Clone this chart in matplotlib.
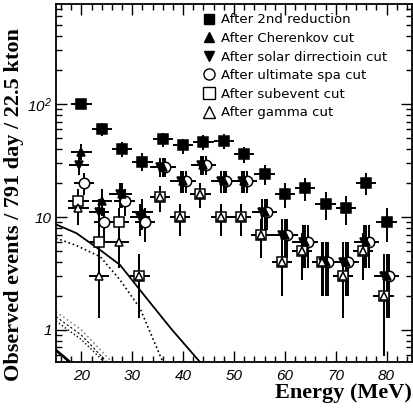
import matplotlib.pyplot as plt
import numpy as np
from matplotlib.lines import Line2D
from matplotlib.ticker import FixedLocator, FixedFormatter, MultipleLocator, LogLocator, NullFormatter

plt.rcParams['mathtext.fontset'] = 'custom'
plt.rcParams['mathtext.rm'] = 'Liberation Sans:italic'
plt.rcParams['mathtext.it'] = 'Liberation Sans:italic'

# bin centres (MeV), half width 2 MeV
energy = np.array([20, 24, 28, 32, 36, 40, 44, 48, 52, 56, 60, 64, 68, 72, 76, 80])

# events after each reduction step
n_2nd = [100, 60, 40, 31, 49, 43, 46, 47, 36, 24, 16, 18, 13, 12, 20, 9]
n_cherenkov = [38, 14, 16, 11, 28, 21, 29, 21, 21, 11, 7, 6, 4, 4, 6, 3]
n_solar = [29, 11, 16, 10, 28, 21, 29, 21, 21, 11, 7, 6, 4, 4, 6, 3]
n_spa = [20, 9, 14, 9, 28, 21, 29, 21, 21, 11, 7, 6, 4, 4, 6, 3]
n_subevent = [14, 6, 9, 3, 15, 10, 16, 10, 10, 7, 4, 5, 4, 3, 5, 2]
n_gamma = [12, 3, 6, 3, 15, 10, 16, 10, 10, 7, 4, 5, 4, 3, 5, 2]

# expected SRN spectra (model curves)
curve_a_e = [15, 19, 23.7, 27.6, 31.5, 37.6, 43.3]
curve_a_y = [8.6, 7.2, 5.1, 3.76, 2.26, 1.03, 0.52]
curve_b_e = [15, 19, 23.7, 27.6, 31.5, 36]
curve_b_y = [6.5, 5.6, 4.45, 2.77, 1.56, 0.52]
curve_c_e = [15, 20, 26]
curve_c_y = [1.45, 1.0, 0.52]
curve_d_e = [15, 20, 25]
curve_d_y = [1.31, 0.9, 0.52]
curve_e_e = [15, 20, 24.5]
curve_e_y = [1.2, 0.82, 0.52]
curve_f_e = [15, 16.5, 17.7]
curve_f_y = [0.66, 0.58, 0.52]

fig = plt.figure(figsize=(4.14, 4.09), dpi=100)
ax = fig.add_axes([56/414, 47/409, 356/414, 358/409])

ax.plot(curve_a_e, curve_a_y, '-', color='black', lw=1.3)
ax.plot(curve_b_e, curve_b_y, ':', color='black', lw=1.2)
ax.plot(curve_c_e, curve_c_y, ':', color='0.55', lw=1.2)
ax.plot(curve_d_e, curve_d_y, '--', color='black', lw=0.8, dashes=(2, 2))
ax.plot(curve_e_e, curve_e_y, ':', color='black', lw=1.0)
ax.plot(curve_f_e, curve_f_y, '-', color='black', lw=2.0)

series = [
    (n_2nd, 0.0, 's', 'black', 7, 'After 2nd reduction'),
    (n_spa, 0.5, 'o', 'white', 7.5, 'After ultimate spa cut'),
    (n_subevent, -0.6, 's', 'white', 7.5, 'After subevent cut'),
    (n_cherenkov, 0.0, '^', 'black', 5.5, 'After Cherenkov cut'),
    (n_solar, -0.5, 'v', 'black', 5.5, 'After solar dirrectioin cut'),
    (n_gamma, -0.6, '^', 'white', 5.5, 'After gamma cut'),
]
for vals, off, mk, fc, ms, lab in series:
    vals = np.array(vals, dtype=float)
    ax.errorbar(energy + off, vals, xerr=2, yerr=np.sqrt(vals), fmt=mk, ms=ms,
                mfc=fc, mec='black', mew=1.1, ecolor='black', elinewidth=1.4, capsize=0)

ax.set_yscale('log')
ax.set_xlim(15, 85)
ax.set_ylim(0.52, 770)

ax.xaxis.set_major_locator(FixedLocator([20, 30, 40, 50, 60, 70, 80]))
ax.xaxis.set_minor_locator(MultipleLocator(2))
ax.yaxis.set_major_locator(FixedLocator([1, 10, 100]))
ax.yaxis.set_major_formatter(FixedFormatter(['1', '10', '$10^2$']))
ax.yaxis.set_minor_locator(LogLocator(base=10, subs=np.arange(2, 10)))
ax.yaxis.set_minor_formatter(NullFormatter())
ax.tick_params(which='both', direction='in', top=True, right=True, width=1.0)
ax.tick_params(which='major', length=8)
ax.tick_params(which='minor', length=4)
ax.tick_params(axis='x', pad=5)
ax.tick_params(axis='y', pad=3)
for t in ax.get_xticklabels() + ax.get_yticklabels():
    t.set_fontfamily('Liberation Sans')
    t.set_fontstyle('italic')
    t.set_fontsize(11)

for s in ax.spines.values():
    s.set_linewidth(1.3)

fig.text(14/414, 1 - 205/409, 'Observed events / 791 day / 22.5 kton', rotation=90,
         ha='center', va='center', family='Liberation Serif', weight='bold', fontsize=16)
fig.text(412/414, 1 - 398/409, 'Energy (MeV)', ha='right', va='baseline',
         family='Liberation Serif', weight='bold', fontsize=16)

handles = [
    Line2D([], [], ls='none', marker='s', ms=7, mfc='black', mec='black'),
    Line2D([], [], ls='none', marker='^', ms=7, mfc='black', mec='black'),
    Line2D([], [], ls='none', marker='v', ms=7, mfc='black', mec='black'),
    Line2D([], [], ls='none', marker='o', ms=8, mfc='white', mec='black'),
    Line2D([], [], ls='none', marker='s', ms=8, mfc='white', mec='black'),
    Line2D([], [], ls='none', marker='^', ms=8, mfc='white', mec='black'),
]
labels = ['After 2nd reduction', 'After Cherenkov cut', 'After solar dirrectioin cut',
          'After ultimate spa cut', 'After subevent cut', 'After gamma cut']
ax.legend(handles, labels, loc='upper left', bbox_to_anchor=(0.397, 0.992), frameon=False,
          handlelength=0.8, handletextpad=0.5, labelspacing=0.42, borderpad=0,
          prop={'family': 'DejaVu Sans', 'size': 9.5})

fig.savefig('out.png', dpi=100)
